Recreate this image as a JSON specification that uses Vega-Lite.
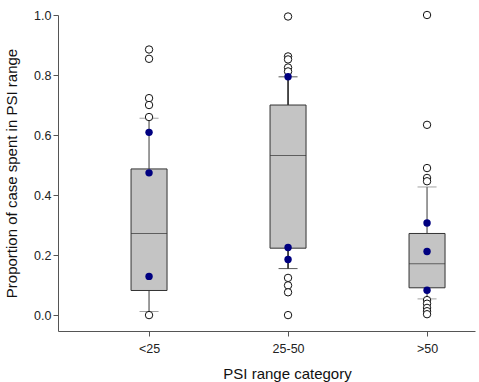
{
  "$schema": "https://vega.github.io/schema/vega-lite/v6.json",
  "width": 417,
  "height": 316,
  "autosize": "none",
  "padding": {"left": 58, "top": 15, "right": 4, "bottom": 51},
  "background": "white",
  "config": {
    "font": "Liberation Sans",
    "view": {"stroke": null},
    "axis": {
      "grid": false,
      "domainColor": "#555555",
      "tickColor": "#555555",
      "tickSize": 5,
      "labelColor": "#222222",
      "labelFontSize": 12.5,
      "titleFontSize": 15,
      "titleFontWeight": "normal",
      "titleColor": "#111111"
    }
  },
  "datasets": {
    "boxes": [
      {"category": "<25", "lo": 0.012, "q1": 0.082, "median": 0.272, "q3": 0.487, "hi": 0.656},
      {"category": "25-50", "lo": 0.155, "q1": 0.223, "median": 0.532, "q3": 0.70, "hi": 0.794},
      {"category": ">50", "lo": 0.054, "q1": 0.091, "median": 0.171, "q3": 0.272, "hi": 0.427}
    ],
    "points": [
      {"category": "<25", "value": 0.885, "kind": "outlier"},
      {"category": "<25", "value": 0.854, "kind": "outlier"},
      {"category": "<25", "value": 0.723, "kind": "outlier"},
      {"category": "<25", "value": 0.70, "kind": "outlier"},
      {"category": "<25", "value": 0.66, "kind": "outlier"},
      {"category": "<25", "value": 0.0, "kind": "outlier"},
      {"category": "<25", "value": 0.609, "kind": "case"},
      {"category": "<25", "value": 0.474, "kind": "case"},
      {"category": "<25", "value": 0.129, "kind": "case"},
      {"category": "25-50", "value": 0.995, "kind": "outlier"},
      {"category": "25-50", "value": 0.862, "kind": "outlier"},
      {"category": "25-50", "value": 0.852, "kind": "outlier"},
      {"category": "25-50", "value": 0.825, "kind": "outlier"},
      {"category": "25-50", "value": 0.812, "kind": "outlier"},
      {"category": "25-50", "value": 0.124, "kind": "outlier"},
      {"category": "25-50", "value": 0.099, "kind": "outlier"},
      {"category": "25-50", "value": 0.076, "kind": "outlier"},
      {"category": "25-50", "value": 0.0, "kind": "outlier"},
      {"category": "25-50", "value": 0.794, "kind": "case"},
      {"category": "25-50", "value": 0.225, "kind": "case"},
      {"category": "25-50", "value": 0.185, "kind": "case"},
      {"category": ">50", "value": 1.0, "kind": "outlier"},
      {"category": ">50", "value": 0.634, "kind": "outlier"},
      {"category": ">50", "value": 0.49, "kind": "outlier"},
      {"category": ">50", "value": 0.457, "kind": "outlier"},
      {"category": ">50", "value": 0.446, "kind": "outlier"},
      {"category": ">50", "value": 0.05, "kind": "outlier"},
      {"category": ">50", "value": 0.038, "kind": "outlier"},
      {"category": ">50", "value": 0.024, "kind": "outlier"},
      {"category": ">50", "value": 0.013, "kind": "outlier"},
      {"category": ">50", "value": 0.003, "kind": "outlier"},
      {"category": ">50", "value": 0.307, "kind": "case"},
      {"category": ">50", "value": 0.212, "kind": "case"},
      {"category": ">50", "value": 0.083, "kind": "case"}
    ]
  },
  "encoding": {
    "x": {
      "field": "category",
      "type": "nominal",
      "sort": ["<25", "25-50", ">50"],
      "scale": {"type": "point", "padding": 0.5, "align": 0.655},
      "axis": {"title": "PSI range category", "labelAngle": 0, "labelPadding": 6, "titlePadding": 12, "titleX": 229}
    }
  },
  "layer": [
    {
      "data": {"name": "boxes"},
      "mark": {"type": "rule", "strokeWidth": 1.5},
      "encoding": {
        "y": {"field": "lo", "type": "quantitative"},
        "y2": {"field": "hi"},
        "color": {"field": "category", "type": "nominal", "scale": {"domain": ["<25", "25-50", ">50"], "range": ["#7a7a7a", "#111111", "#7a7a7a"]}, "legend": null}
      }
    },
    {
      "data": {"name": "boxes"},
      "mark": {"type": "tick", "size": 19, "thickness": 1},
      "encoding": {
        "y": {"field": "lo", "type": "quantitative"},
        "color": {"field": "category", "type": "nominal", "legend": null}
      }
    },
    {
      "data": {"name": "boxes"},
      "mark": {"type": "tick", "size": 19, "thickness": 1},
      "encoding": {
        "y": {"field": "hi", "type": "quantitative"},
        "color": {"field": "category", "type": "nominal", "legend": null}
      }
    },
    {
      "data": {"name": "boxes"},
      "mark": {"type": "bar", "size": 36, "fill": "#c4c4c4", "stroke": "#333333", "strokeWidth": 1},
      "encoding": {
        "y": {
          "field": "q1",
          "type": "quantitative",
          "scale": {"domain": [-0.053, 1.0], "nice": false, "zero": false},
          "axis": {"title": "Proportion of case spent in PSI range", "values": [0, 0.2, 0.4, 0.6, 0.8, 1.0], "format": ".1f", "labelPadding": 2, "titlePadding": 14}
        },
        "y2": {"field": "q3"}
      }
    },
    {
      "data": {"name": "boxes"},
      "mark": {"type": "tick", "size": 36, "thickness": 1, "color": "#333333"},
      "encoding": {
        "y": {"field": "median", "type": "quantitative"}
      }
    },
    {
      "data": {"name": "points"},
      "transform": [{"filter": "datum.kind === 'outlier'"}],
      "mark": {"type": "point", "shape": "circle", "filled": false, "fill": "white", "fillOpacity": 1, "stroke": "#111111", "strokeWidth": 1, "size": 55, "opacity": 1},
      "encoding": {
        "y": {"field": "value", "type": "quantitative"}
      }
    },
    {
      "data": {"name": "points"},
      "transform": [{"filter": "datum.kind === 'case'"}],
      "mark": {"type": "circle", "color": "#000080", "size": 55, "opacity": 1},
      "encoding": {
        "y": {"field": "value", "type": "quantitative"}
      }
    }
  ],
  "resolve": {"scale": {"color": "shared"}}
}
